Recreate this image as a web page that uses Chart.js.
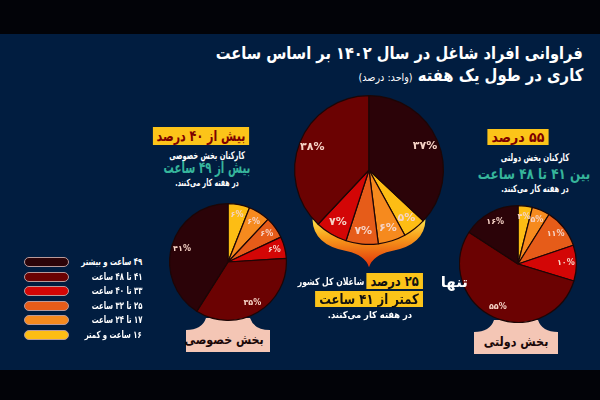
<!DOCTYPE html>
<html lang="fa">
<head>
<meta charset="utf-8">
<script src="https://cdn.jsdelivr.net/npm/chart.js@4.4.1/dist/chart.umd.min.js"></script>
<style>
  body { margin: 0; width: 600px; height: 400px; background: #020308; position: relative; overflow: hidden;
         font-family: "DejaVu Sans", sans-serif; font-weight: bold; color: #fff; }
  #bg { position: absolute; left: 0; top: 34px; width: 600px; height: 336px; background: #011d40; }
  .t { position: absolute; direction: rtl; white-space: nowrap; text-align: center;
       transform: scaleX(var(--s, 1)); transform-origin: center; }
  .r { text-align: right; transform-origin: right center; }
  .box { background: #fcc419; color: #7d0000; padding: 0 5px; }
  .teal { color: #36b59b; }
  canvas { position: absolute; }
  svg { position: absolute; }
  .pill { position: absolute; left: 24px; width: 43px; height: 8px; border: 1px solid #b99a9a; border-radius: 6px; }
  .lg { position: absolute; right: 458px; font-size: 10px; direction: rtl; white-space: nowrap; line-height: 12px;
        transform: scaleX(0.69); transform-origin: right center; }
</style>
</head>
<body>
<div id="bg"></div>

<!-- عنوان -->
<div class="t r" style="--s:0.86;right:17px;top:42px;line-height:22px;font-size:17px">فراوانی افراد شاغل در سال ۱۴۰۲ بر اساس ساعت</div>
<div class="t r" style="--s:0.87;right:17px;top:64px;line-height:22px;font-size:17px">کاری در طول یک هفته <span style="font-size:11px;font-weight:normal">(واحد: درصد)</span></div>

<!-- پایه زیر نمودارها -->
<svg style="left:186px;top:318px" width="84" height="34"><path d="M0,12 Q16,12 20,0 L64,0 Q68,12 84,12 L84,34 L0,34 Z" fill="#f4c6b5"/></svg>
<svg style="left:474px;top:320px" width="84" height="34"><path d="M0,12 Q16,12 20,0 L64,0 Q68,12 84,12 L84,34 L0,34 Z" fill="#f4c6b5"/></svg>
<div class="t" style="--s:0.85;left:186px;width:84px;top:330px;line-height:20px;font-size:13px;color:#1a0808">بخش خصوصی</div>
<div class="t" style="--s:0.86;left:474px;width:84px;top:332px;line-height:20px;font-size:13px;color:#1a0808">بخش دولتی</div>

<canvas id="totalPie" width="160" height="200" style="left:289px;top:95px"></canvas>
<canvas id="privatePie" width="118" height="118" style="left:169px;top:203px"></canvas>
<canvas id="publicPie" width="118" height="118" style="left:459px;top:205px"></canvas>

<!-- متن بخش خصوصی -->
<div class="t" style="--s:0.74;left:101px;width:200px;top:126px;line-height:21px;font-size:15px"><span class="box">بیش از ۴۰ درصد</span></div>
<div class="t" style="--s:0.64;left:107px;width:200px;top:149px;line-height:12px;font-size:10.5px">کارکنان بخش خصوصی</div>
<div class="t teal" style="--s:0.64;left:107px;width:200px;top:159px;line-height:18px;font-size:16px">بیش از ۴۹ ساعت</div>
<div class="t" style="--s:0.63;left:107px;width:200px;top:177px;line-height:12px;font-size:10px">در هفته کار می‌کنند.</div>

<!-- متن بخش دولتی -->
<div class="t" style="--s:0.9;left:418px;width:200px;top:127px;line-height:20px;font-size:14px"><span class="box">۵۵ درصد</span></div>
<div class="t" style="--s:0.66;left:435px;width:200px;top:151px;line-height:12px;font-size:10.5px">کارکنان بخش دولتی</div>
<div class="t teal" style="--s:0.8;left:434px;width:200px;top:165px;line-height:18px;font-size:15px">بین ۴۱ تا ۴۸ ساعت</div>
<div class="t" style="--s:0.67;left:435px;width:200px;top:183px;line-height:12px;font-size:10px">در هفته کار می‌کنند.</div>

<!-- متن کل کشور -->
<div class="t r" style="right:132px;top:272px;line-height:20px;font-size:15px">تنها</div>
<div class="t r" style="--s:0.82;right:177px;top:272px;line-height:18px;font-size:14px"><span class="box" style="color:#111">۲۵ درصد</span></div>
<div class="t r" style="--s:0.77;right:236px;top:276px;line-height:12px;font-size:10px">شاغلان کل کشور</div>
<div class="t r" style="--s:0.83;right:177px;top:290px;line-height:18px;font-size:14px"><span class="box" style="color:#111">کمتر از ۴۱ ساعت</span></div>
<div class="t" style="--s:0.88;left:270px;width:200px;top:309px;line-height:12px;font-size:9.5px">در هفته کار می‌کنند.</div>

<div id="legend"></div>

<script>
  var categories = ["۱۶ ساعت و کمتر", "۱۷ تا ۲۴ ساعت", "۲۵ تا ۳۲ ساعت", "۳۳ تا ۴۰ ساعت", "۴۱ تا ۴۸ ساعت", "۴۹ ساعت و بیشتر"];
  var totalValues = [5, 6, 7, 7, 38, 37];
  var privateValues = [6, 6, 6, 6, 35, 41];
  var publicValues = [4, 5, 11, 10, 55, 16];
  var colors = ["#fdbd14", "#f68a1e", "#e65c19", "#d30606", "#6b0202", "#2b0308"];

  function fa(n) {
    return String(n).replace(/\d/g, function (d) { return "۰۱۲۳۴۵۶۷۸۹"[d]; });
  }

  // برچسب درصد روی هر برش
  var sliceLabels = {
    id: "sliceLabels",
    afterDatasetsDraw: function (chart, args, opts) {
      var ctx = chart.ctx;
      var meta = chart.getDatasetMeta(0);
      ctx.save();
      ctx.font = "bold " + opts.size + "px 'DejaVu Sans'";
      ctx.fillStyle = "#f6d3c6";
      ctx.textAlign = "center";
      ctx.textBaseline = "middle";
      meta.data.forEach(function (arc, i) {
        var p = arc.getProps(["x", "y", "startAngle", "endAngle", "outerRadius"], true);
        var a = (p.startAngle + p.endAngle) / 2;
        var r = p.outerRadius * 0.82;
        ctx.fillText(fa(chart.data.datasets[0].data[i]) + "%", p.x + Math.cos(a) * r, p.y + Math.sin(a) * r);
      });
      ctx.restore();
    }
  };

  // شکل چراغ زیر نمودار وسط
  var lamp = {
    id: "lamp",
    beforeDatasetsDraw: function (chart) {
      var arc = chart.getDatasetMeta(0).data[0];
      var cx = arc.x, cy = arc.y, k = arc.outerRadius / 75;
      var ctx = chart.ctx;
      ctx.save();
      ctx.translate(cx, cy);
      ctx.scale(k, k);
      var g = ctx.createLinearGradient(0, 50, 0, 98);
      g.addColorStop(0, "#fde24a");
      g.addColorStop(0.35, "#f9a21c");
      g.addColorStop(1, "#e0300a");
      ctx.beginPath();
      ctx.moveTo(-57, 50);
      ctx.quadraticCurveTo(-56, 76, -22, 82);
      ctx.quadraticCurveTo(-4, 86, 0, 98);
      ctx.quadraticCurveTo(4, 86, 22, 82);
      ctx.quadraticCurveTo(56, 76, 57, 50);
      ctx.closePath();
      ctx.fillStyle = g;
      ctx.fill();
      ctx.restore();
    }
  };

  function makePie(id, values, rotation, pad, size, extra) {
    return new Chart(document.getElementById(id), {
      type: "pie",
      data: {
        labels: categories,
        datasets: [{ data: values, backgroundColor: colors, borderColor: "#1c0606", borderWidth: 1.2, rotation: rotation }]
      },
      options: {
        responsive: false,
        animation: false,
        layout: { padding: pad },
        plugins: { legend: { display: false }, tooltip: { enabled: false }, sliceLabels: { size: size } }
      },
      plugins: [sliceLabels].concat(extra || [])
    });
  }

  var totalSum = totalValues.reduce(function (a, b) { return a + b; }, 0);
  makePie("totalPie", totalValues, totalValues[5] / totalSum * 360, { bottom: 50 }, 11, [lamp]);
  makePie("privatePie", privateValues, 0, 0, 8);
  makePie("publicPie", publicValues, 0, 0, 8);

  // راهنما
  var legend = document.getElementById("legend");
  for (var i = categories.length - 1, row = 0; i >= 0; i--, row++) {
    var y = 262 + row * 14.6;
    var pill = document.createElement("div");
    pill.className = "pill";
    pill.style.top = (y - 5) + "px";
    pill.style.background = colors[i];
    legend.appendChild(pill);
    var lab = document.createElement("div");
    lab.className = "lg";
    lab.style.top = (y - 6) + "px";
    lab.textContent = categories[i];
    legend.appendChild(lab);
  }
</script>
</body>
</html>
